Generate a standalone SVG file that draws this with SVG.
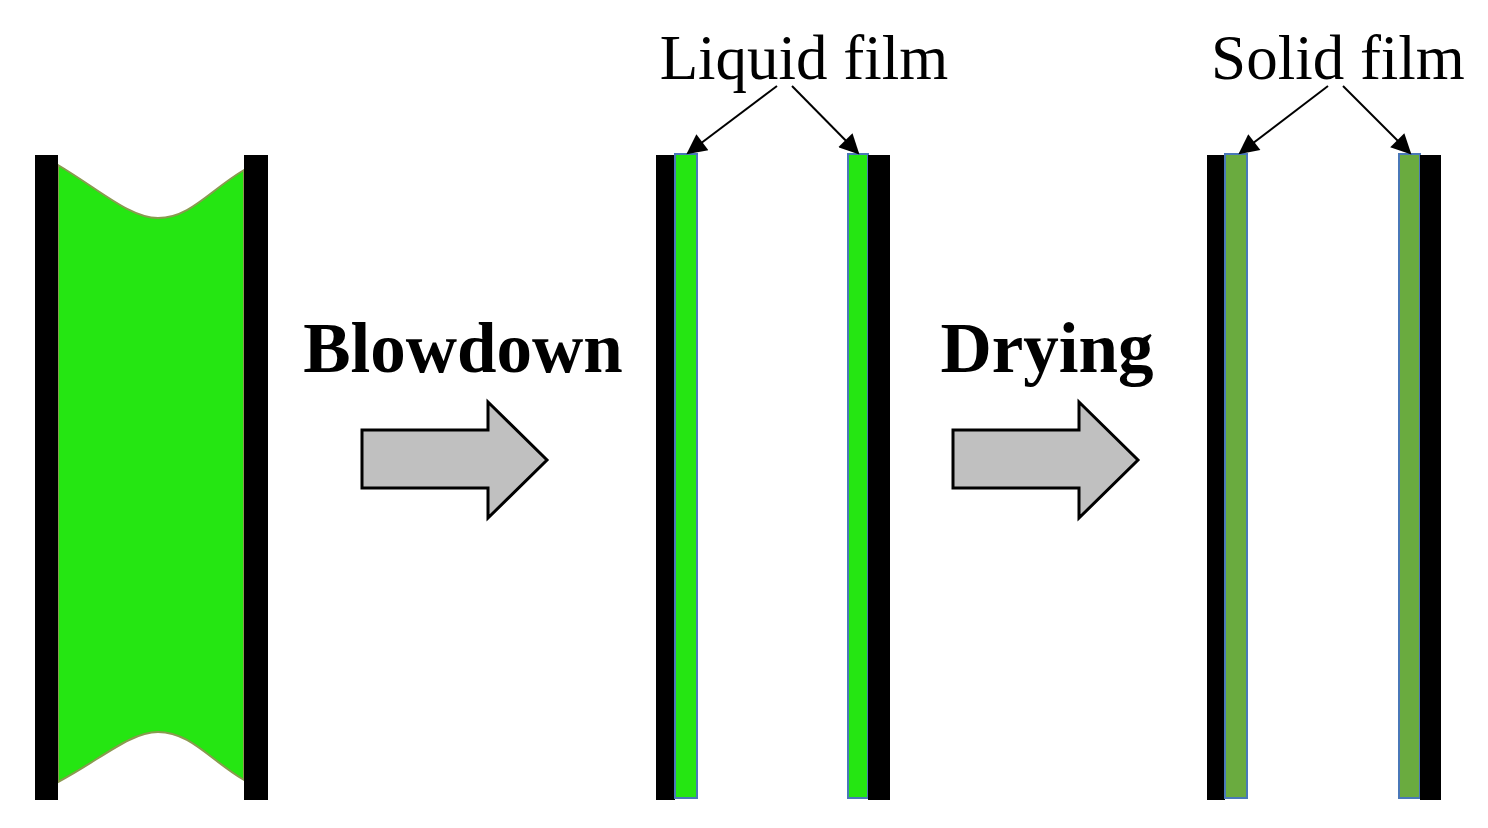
<svg xmlns="http://www.w3.org/2000/svg" width="1488" height="828" viewBox="0 0 1488 828">
<defs>
<style>
.wall{fill:#000}
.liq{fill:#25e612;stroke:#4a78b8;stroke-width:2}
.sol{fill:#6aab3f;stroke:#4a78b8;stroke-width:2}
.bigarrow{fill:#c0c0c0;stroke:#000;stroke-width:3}
.lbl{font-family:"Liberation Serif",serif;font-size:63px;fill:#000;text-anchor:middle}
.step{font-family:"Liberation Serif",serif;font-size:71px;font-weight:bold;fill:#000;text-anchor:middle}
.lead{stroke:#000;stroke-width:2;fill:none;marker-end:url(#ah)}
</style>
<marker id="ah" viewBox="0 0 10 10" refX="9" refY="5" markerWidth="22" markerHeight="20" markerUnits="userSpaceOnUse" orient="auto"><path d="M0,0L10,5L0,10z" fill="#000"/></marker>
</defs>
<rect width="1488" height="828" fill="#fff"/>
<g id="stage1">
<path d="M58,165 C100,190 130,218 158,218 C190,218 210,190 244,170 L244,780 C210,760 190,732 158,732 C130,732 100,760 58,782 Z" fill="#25e612" stroke="#8a9a50" stroke-width="2"/>
<rect class="wall" x="35" y="155" width="23" height="645"/>
<rect class="wall" x="244" y="155" width="24" height="645"/>
</g>
<g id="stage2">
<rect class="wall" x="656" y="155" width="19" height="645"/>
<rect class="liq" x="675" y="154" width="22" height="644"/>
<rect class="liq" x="848" y="154" width="20" height="644"/>
<rect class="wall" x="868" y="155" width="22" height="645"/>
</g>
<g id="stage3">
<rect class="wall" x="1207" y="155" width="18" height="645"/>
<rect class="sol" x="1225" y="154" width="22" height="644"/>
<rect class="sol" x="1399" y="154" width="21" height="644"/>
<rect class="wall" x="1420" y="155" width="21" height="645"/>
</g>
<g id="blowdown">
<text class="step" x="463" y="372">Blowdown</text>
<path class="bigarrow" d="M362,430 H488 V402 L547,460 L488,518 V488 H362 Z"/>
</g>
<g id="drying">
<text class="step" x="1047" y="372">Drying</text>
<path class="bigarrow" d="M953,430 H1079 V402 L1138,460 L1079,518 V488 H953 Z"/>
</g>
<g id="liquid-label"><text class="lbl" x="804" y="79">Liquid film</text></g>
<g id="solid-label"><text class="lbl" x="1338" y="79">Solid film</text></g>
<g id="connectors">
<line class="lead" x1="777" y1="86" x2="688" y2="153"/>
<line class="lead" x1="792" y1="86" x2="858" y2="153"/>
<line class="lead" x1="1328" y1="86" x2="1240" y2="153"/>
<line class="lead" x1="1343" y1="86" x2="1410" y2="153"/>
</g>
</svg>
